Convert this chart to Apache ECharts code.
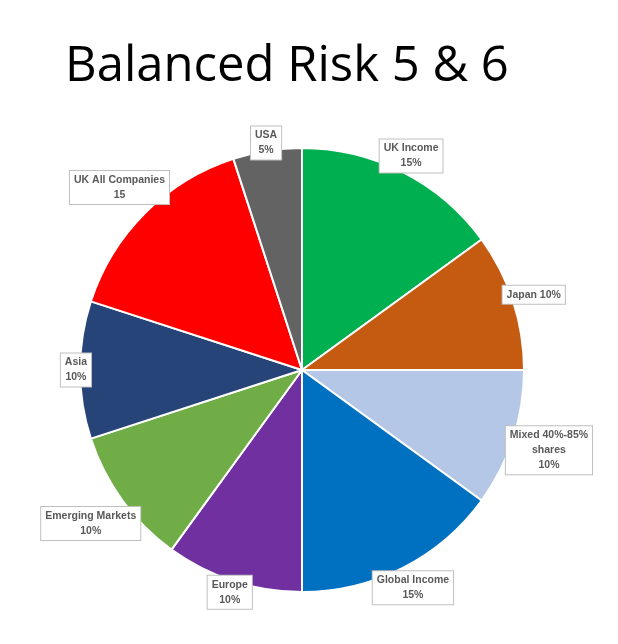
<!DOCTYPE html>
<html>
<head>
<meta charset="utf-8">
<script src="https://cdn.jsdelivr.net/npm/echarts@6/dist/echarts.min.js"></script>
<style>html,body{margin:0;padding:0;background:#fff}#c{width:618px;height:644px}</style>
</head>
<body>
<div id="c"></div>
<script>
var categories = ['UK Income', 'Japan', 'Mixed 40%-85% shares', 'Global Income', 'Europe', 'Emerging Markets', 'Asia', 'UK All Companies', 'USA'];
var values = [15, 10, 10, 15, 10, 10, 10, 15, 5];
var labelTexts = ['UK Income\n15%', 'Japan 10%', 'Mixed 40%-85%\nshares\n10%', 'Global Income\n15%', 'Europe\n10%', 'Emerging Markets\n10%', 'Asia\n10%', 'UK All Companies\n15', 'USA\n5%'];
var colors = ['#00b050', '#c55a11', '#b4c7e7', '#0070c0', '#7030a0', '#70ad47', '#264478', '#ff0000', '#636363'];

var CX = 302, CY = 370, R = 222, OVERLAP = 12;
var total = values.reduce(function (a, b) { return a + b; }, 0);
var mids = [];
(function () { var acc = 0; values.forEach(function (v) { mids.push((acc + v / 2) / total * Math.PI * 2); acc += v; }); })();

var chart = echarts.init(document.getElementById('c'), null, { renderer: 'canvas' });
chart.setOption({
  animation: false,
  color: colors,
  title: {
    text: 'Balanced Risk 5 & 6',
    left: 60, top: 38,
    textStyle: { fontFamily: 'Open Sans', fontWeight: 'normal', fontSize: 49, color: '#000' }
  },
  series: [{
    type: 'pie',
    center: [CX, CY],
    radius: R,
    startAngle: 90,
    clockwise: true,
    data: categories.map(function (c, i) { return { name: c, value: values[i] }; }),
    itemStyle: { borderColor: '#fff', borderWidth: 2 },
    label: {
      show: true,
      position: 'inside',
      formatter: function (p) { return labelTexts[p.dataIndex]; },
      fontFamily: 'Liberation Sans',
      fontWeight: 'bold',
      fontSize: 10.5,
      lineHeight: 15,
      color: '#595959',
      align: 'center',
      backgroundColor: '#fff',
      borderColor: '#bfbfbf',
      borderWidth: 1,
      padding: [2, 4, 1, 4]
    },
    labelLine: { show: false },
    labelLayout: function (p) {
      var t = mids[p.dataIndex];
      var ux = Math.sin(t), uy = -Math.cos(t);
      var w = p.labelRect.width, h = p.labelRect.height;
      var ext = Math.abs(ux) * w / 2 + Math.abs(uy) * h / 2;
      var d = R + ext - OVERLAP;
      return { x: CX + ux * d, y: CY + uy * d, align: 'center', verticalAlign: 'middle' };
    },
    emphasis: { disabled: true }
  }]
});
</script>
</body>
</html>
